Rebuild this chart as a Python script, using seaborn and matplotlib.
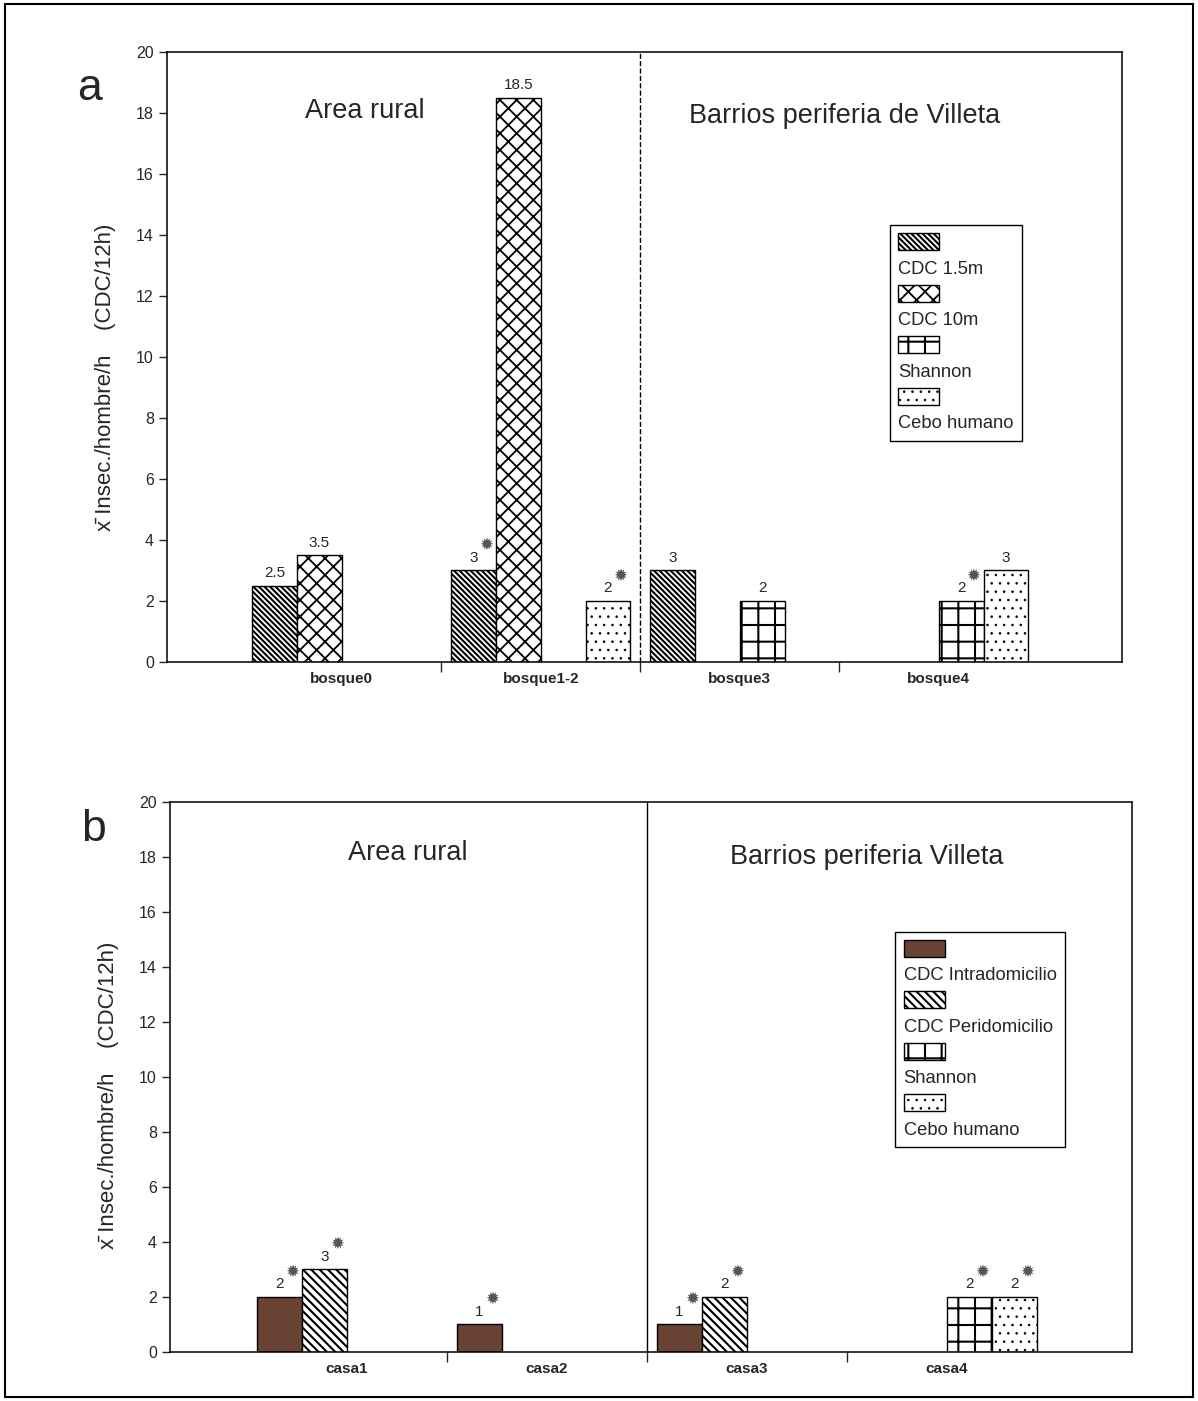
import pandas as pd
import matplotlib.pyplot as plt
import seaborn as sns
from matplotlib.patches import Patch, Rectangle

# ---- data: panel a (bosques) ----
sites_a = ["bosque0", "bosque1-2", "bosque3", "bosque4"]
traps_a = ["CDC 1.5m", "CDC 10m", "Shannon", "Cebo humano"]
bar_site_a = ["bosque0", "bosque0", "bosque1-2", "bosque1-2", "bosque1-2",
              "bosque3", "bosque3", "bosque4", "bosque4"]
bar_trap_a = ["CDC 1.5m", "CDC 10m", "CDC 1.5m", "CDC 10m", "Cebo humano",
              "CDC 1.5m", "Shannon", "Shannon", "Cebo humano"]
bar_value_a = [2.5, 3.5, 3, 18.5, 2, 3, 2, 2, 3]
bar_star_a = [False, False, True, False, True, False, False, True, False]
regions_a = ["Area rural", "Barrios periferia de Villeta"]

# ---- data: panel b (casas) ----
sites_b = ["casa1", "casa2", "casa3", "casa4"]
traps_b = ["CDC Intradomicilio", "CDC Peridomicilio", "Shannon", "Cebo humano"]
bar_site_b = ["casa1", "casa1", "casa2", "casa3", "casa3", "casa4", "casa4"]
bar_trap_b = ["CDC Intradomicilio", "CDC Peridomicilio", "CDC Intradomicilio",
              "CDC Intradomicilio", "CDC Peridomicilio", "Shannon", "Cebo humano"]
bar_value_b = [2, 3, 1, 1, 2, 2, 2]
bar_star_b = [True, True, True, True, True, True, True]
regions_b = ["Area rural", "Barrios periferia Villeta"]

yticks = list(range(0, 21, 2))
ylabel = "x\u0304 Insec./hombre/h    (CDC/12h)"

# ---- styles: face, hatch, hatch colour, hatch width ----
styles = {
    "CDC 1.5m": ("white", "\\\\\\\\\\\\", "black", 1.5),
    "CDC 10m": ("white", "xx", "black", 1.3),
    "Shannon": ("white", "+", "black", 1.5),
    "Cebo humano": ("white", "..", "#9a9a9a", 0.6),
    "CDC Intradomicilio": ("#684233", "", "black", 1.0),
    "CDC Peridomicilio": ("white", "\\\\\\\\", "black", 1.5),
}

sns.set_style("ticks")
plt.rcParams["font.family"] = ["Liberation Sans", "DejaVu Sans"]
plt.rcParams["hatch.linewidth"] = 1.5
plt.rcParams["hatch.color"] = "black"


def style_patch(p, trap):
    face, hatch, hcol, hlw = styles[trap]
    p.set_facecolor(face)
    p.set_hatch(hatch)
    p.set_edgecolor("black")
    if hasattr(p, "set_hatchcolor"):
        p.set_hatchcolor(hcol)
    if hasattr(p, "set_hatch_linewidth"):
        p.set_hatch_linewidth(hlw)


def draw_panel(ax, sites, traps, bar_site, bar_trap, bar_value, bar_star,
               regions, region_pos, sep_style, xlim, legend_anchor):
    df = pd.DataFrame({"site": bar_site, "trap": bar_trap,
                       "value": bar_value, "star": bar_star})
    sns.barplot(data=df, x="site", y="value", hue="trap", order=sites,
                hue_order=traps, width=0.9, ax=ax, legend=False,
                errorbar=None, edgecolor="black", linewidth=1)
    present = [t for t in traps if t in set(bar_trap)]
    for trap, cont in zip(present, ax.containers):
        for bar in cont:
            style_patch(bar, trap)
            xc = bar.get_x() + bar.get_width() / 2
            site = sites[int(round(xc))]
            row = df[(df.site == site) & (df.trap == trap)].iloc[0]
            h = bar.get_height()
            ax.annotate(f"{row.value:g}", (xc, h), xytext=(0, 4),
                        textcoords="offset points", ha="center", va="bottom",
                        fontsize=11)
            if row.star:
                ax.annotate("\u2739", (xc, h), xytext=(9, 12),
                            textcoords="offset points", ha="center",
                            va="bottom", fontsize=12, color="#555555",
                            family="DejaVu Sans")

    ax.set_ylim(0, 20)
    ax.set_yticks(yticks)
    ax.set_xlim(*xlim)
    ax.set_xticks([0.5, 1.5, 2.5])
    ax.set_xticklabels([])
    ax.set_xticks(range(len(sites)), minor=True)
    ax.set_xticklabels(sites, minor=True, fontsize=11, fontweight="bold")
    ax.tick_params(axis="x", which="minor", length=0, pad=7)
    ax.tick_params(axis="x", which="major", length=7, width=1, direction="out")
    ax.tick_params(axis="y", length=6, width=1, labelsize=11.5, direction="out")
    ax.set_xlabel("")
    ax.set_ylabel(ylabel, fontsize=16)
    ax.yaxis.set_label_coords(-0.053, 0.466)
    for sp in ax.spines.values():
        sp.set_visible(True)
        sp.set_linewidth(1.1)
        sp.set_color("black")
    ax.axvline(1.5, color="black", lw=1, ls=sep_style)

    for text, (tx, ty) in zip(regions, region_pos):
        ax.text(tx, ty, text, transform=ax.transAxes, ha="center",
                va="center", fontsize=19.5)

    # legend: swatch on one row, its name on the row below
    handles, labels = [], []
    for trap in traps:
        p = Patch()
        style_patch(p, trap)
        handles.append(p)
        labels.append(" ")
        handles.append(Patch(facecolor="none", edgecolor="none"))
        labels.append(trap)
    leg = ax.legend(handles, labels, loc="upper left",
                    bbox_to_anchor=legend_anchor, borderaxespad=0,
                    fancybox=False, edgecolor="black", framealpha=1,
                    fontsize=13.2, handlelength=2.25, handleheight=1.05,
                    handletextpad=-2.25, labelspacing=0.38, borderpad=0.45)
    leg.get_frame().set_linewidth(1)
    for trap, h in zip(traps, leg.legend_handles[::2]):
        style_patch(h, trap)


fig = plt.figure(figsize=(11.98, 14.01), dpi=100)
ax_a = fig.add_axes([0.1394, 0.5275, 0.797, 0.4354])
ax_b = fig.add_axes([0.1419, 0.035, 0.803, 0.3926])

draw_panel(ax_a, sites_a, traps_a, bar_site_a, bar_trap_a, bar_value_a,
           bar_star_a, regions_a, [(0.207, 0.903), (0.71, 0.895)], "--",
           (-0.879, 3.92), (0.757, 0.716))
draw_panel(ax_b, sites_b, traps_b, bar_site_b, bar_trap_b, bar_value_b,
           bar_star_b, regions_b, [(0.247, 0.907), (0.724, 0.9)], "-",
           (-0.885, 3.925), (0.754, 0.764))

fig.text(0.075, 0.937, "a", fontsize=32, ha="center", va="center")
fig.text(0.078, 0.408, "b", fontsize=32, ha="center", va="center")
fig.patches.append(Rectangle((0.004, 0.003), 0.992, 0.994,
                             transform=fig.transFigure, fill=False,
                             edgecolor="black", lw=1.5))

fig.savefig("out.png", dpi=100)
